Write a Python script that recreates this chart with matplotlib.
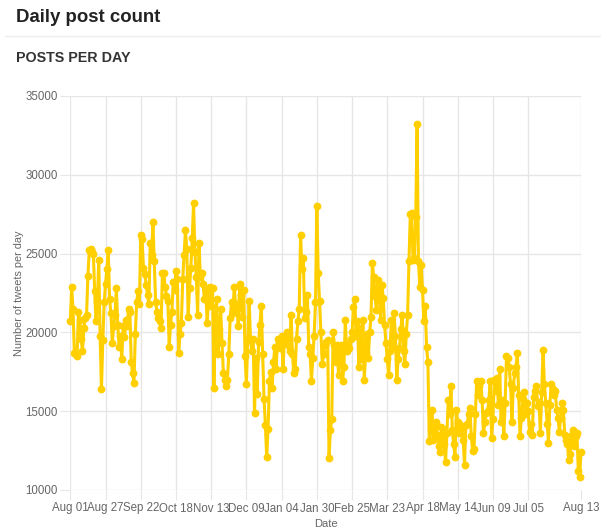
import matplotlib
matplotlib.use('Agg')
import matplotlib.pyplot as plt
import matplotlib.dates as mdates
import pandas as pd

start_date = '2018-08-01'

posts = [
    20700, 22900, 21500, 18700, 18600, 18500, 21300, 20800, 19600, 18800,
    20300, 20900, 21100, 23600, 25200, 25300, 25100, 25000, 22600, 20700,
    21900, 24600, 19800, 16400, 19500, 21900, 23100, 24000, 25200, 22100,
    21200, 19300, 20400, 21100, 22800, 20500, 19100, 19800, 18300, 20400,
    19700, 20800, 20400, 21500, 21300, 18100, 17400, 16800, 19900, 21900,
    22600, 21800, 26200, 25900, 24100, 23700, 23000, 22400, 21800, 25700,
    24900, 27000, 24500, 21900, 21300, 20900, 20700, 20300, 23800, 23800,
    22900, 22300, 22000, 19100, 20500, 21300, 23200, 22700, 23900, 23400,
    18700, 19900, 20600, 23400, 24900, 26500, 25300, 21000, 22800, 24100,
    26000, 28200, 25100, 23500, 21100, 25700, 23500, 23800, 23100, 22100,
    22700, 20600, 21900, 22900, 21700, 22800, 16500, 20300, 22100, 18600,
    20200, 21500, 19300, 17400, 17000, 16600, 17000, 18600, 20900, 21900,
    21200, 22900, 21800, 21500, 20400, 23100, 22400, 21000, 22700, 18500,
    16700, 19500, 22000, 19600, 18800, 19600, 14900, 18400, 16100, 19400,
    20500, 21700, 18600, 15800, 14100, 12100, 13900, 16900, 17500, 16500,
    18100, 19100, 17700, 19600, 19300, 19000, 19800, 17700, 19400, 19600,
    20000, 19200, 18800, 21100, 18600, 17400, 17700, 19600, 20700, 21500,
    26200, 24000, 24700, 20900, 21300, 22400, 19100, 18600, 16900, 18400,
    19800, 21900, 28000, 23800, 22000, 20000, 18000, 18600, 19200, 19400,
    19500, 12000, 13800, 14500, 20000, 19200, 18100, 19200, 17300, 18500,
    19200, 16900, 17800, 20800, 18800, 19200, 19000, 19600, 20000, 21600,
    22100, 19800, 20700, 17800, 20300, 18300, 20800, 17000, 18700, 19900,
    18400, 20000, 21000, 24400, 23500, 22300, 21400, 23300, 23000, 20800,
    23000, 22200, 20500, 19300, 18300, 17300, 18800, 20800, 19000, 21200,
    19800, 17000, 18300, 19000, 20200, 21100, 18800, 18000, 19900, 21100,
    24500, 27500, 27600, 24600, 24700, 27300, 33200, 24500, 22900, 24300,
    22700, 20700, 21700, 19100, 18100, 13100, 13800, 15100, 13200, 14200,
    14300, 13500, 12800, 12400, 14000, 13900, 12900, 11800, 13600, 15700,
    14800, 16600, 13800, 12900, 12100, 15100, 14300, 13600, 14100, 14000,
    13200, 11600, 14100, 14200, 14800, 15200, 13400, 12500, 12600, 14800,
    16900, 16000, 16600, 16900, 15700, 13600, 14300, 14900, 15000, 15700,
    16900, 13300, 14500, 17000, 16300, 17100, 15400, 17700, 14300, 15700,
    13400, 15500, 18500, 18400, 17800, 16700, 14300, 16500, 17400, 17800,
    18700, 16000, 13400, 14600, 15800, 16200, 14800, 15500, 15000, 13700,
    14200, 13500, 15900, 16300, 16600, 15300, 15600, 13600, 16200, 18900,
    16700, 15500, 14200, 13000, 15400, 16700, 16400, 16000, 16300, 15100,
    14600, 13700, 14600, 15500, 15100, 13500, 13200, 12900, 11900, 12300,
    13500, 13800, 12800, 13400, 13600, 11200, 10800, 12400,
]

tick_labels = ['Aug 01', 'Aug 27', 'Sep 22', 'Oct 18', 'Nov 13', 'Dec 09', 'Jan 04',
               'Jan 30', 'Feb 25', 'Mar 23', 'Apr 18', 'May 14', 'Jun 09', 'Jul 05', 'Aug 13']
y_ticks = [10000, 15000, 20000, 25000, 30000, 35000]

dates = pd.date_range(start_date, periods=len(posts), freq='D')
tick_dates = [dates[i] for i in range(0, 26 * 13 + 1, 26)] + [dates[-1]]

fig = plt.figure(figsize=(6.13, 5.31), dpi=100)
fig.patch.set_facecolor('white')

fig.text(16 / 613, 1 - 18 / 531, 'Daily post count', fontsize=13.4, fontweight='bold',
         color='#222222', ha='left', va='center', family='Liberation Sans')
fig.add_artist(plt.Line2D([5 / 613, 600 / 613], [1 - 36 / 531, 1 - 36 / 531],
                          color='#eeeeee', lw=1, transform=fig.transFigure))
fig.text(16 / 613, 1 - 58 / 531, 'POSTS PER DAY', fontsize=10.3, fontweight='bold',
         color='#333333', ha='left', va='center', family='Liberation Sans')

ax = fig.add_axes([70.3 / 613, 1 - 490 / 531, (581 - 70.3) / 613, (490 - 96) / 531])
ax.plot(dates, posts, color='#FFCF00', lw=2.2, marker='o', ms=4.6,
        solid_joinstyle='round', clip_on=False, zorder=3)

ax.set_xlim(dates[0], dates[-1])
ax.set_ylim(10000, 35000)
ax.set_xticks(tick_dates)
ax.set_xticklabels(tick_labels)
ax.set_yticks(y_ticks)
ax.set_yticklabels([str(v) for v in y_ticks])

for s in ax.spines.values():
    s.set_visible(False)
ax.grid(True, color='#e6e6e6', lw=1)
ax.set_axisbelow(True)
ax.tick_params(axis='both', length=7, color='#e6e6e6', labelcolor='#666666',
               labelsize=8.3, pad=2)
for lab in ax.get_xticklabels() + ax.get_yticklabels():
    lab.set_family('Liberation Sans')

ax.set_xlabel('Date', fontsize=8, color='#666666', family='Liberation Sans', labelpad=3)
ax.set_ylabel('Number of tweets per day', fontsize=7.8, color='#666666',
              family='Liberation Sans', labelpad=1)

fig.savefig('out.png', dpi=100, facecolor='white')
